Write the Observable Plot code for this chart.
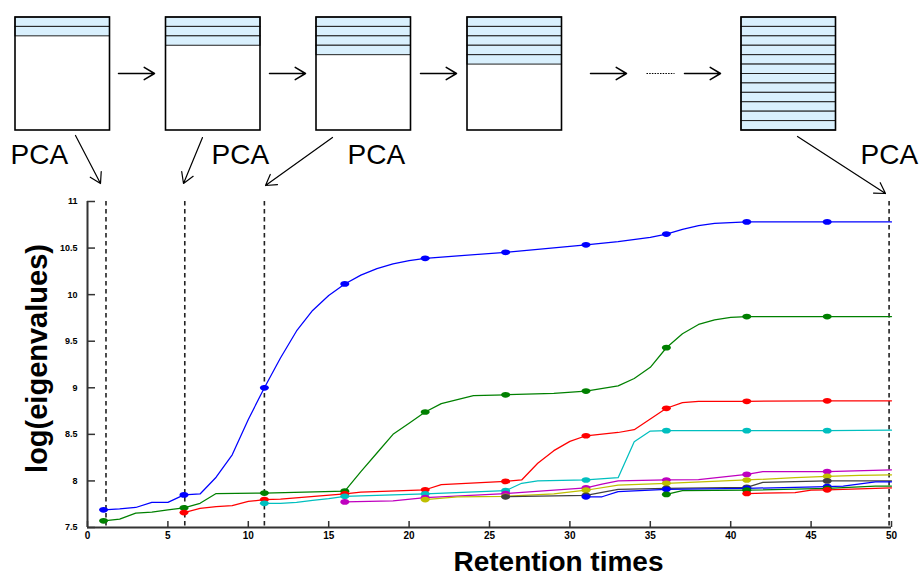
<!DOCTYPE html>
<html>
<head>
<meta charset="utf-8">
<script src="https://cdn.jsdelivr.net/npm/d3@7"></script>
<script src="https://cdn.jsdelivr.net/npm/@observablehq/plot@0.6"></script>
<style>
  html, body { margin: 0; padding: 0; background: #fff; }
  #wrap { position: relative; width: 920px; height: 576px; }
  #wrap > .layer { position: absolute; left: 0; top: 0; }
</style>
</head>
<body>
<div id="wrap"><div id="chart" class="layer"></div><div id="diagram" class="layer"></div></div>
<script>
// ---------- data ----------
const xTicks = [0, 5, 10, 15, 20, 25, 30, 35, 40, 45, 50];
const yTicks = [7.5, 8, 8.5, 9, 9.5, 10, 10.5, 11];
const yTickLabels = ["7.5", "8", "8.5", "9", "9.5", "10", "10.5", "11"];
const snapshotTimes = [1.15, 6.05, 11, 49.85];
const stageBands = [2, 3, 4, 5, 12];
const pcaLabel = "PCA";
const xTitle = "Retention times";
const yTitle = "log(eigenvalues)";
const seriesNames = ["PC1", "PC2", "PC3", "PC4", "PC5", "PC6", "PC7", "PC8", "PC9", "PC10"];
const seriesColors = ["#0000ff", "#008000", "#ff0000", "#00bfbf", "#bf00bf", "#bfbf00", "#404040", "#0000ff", "#008000", "#ff0000"];

const pc1 = [[1,7.69],[2,7.70],[3,7.715],[4,7.77],[5,7.77],[6,7.85],[7,7.86],[8,8.04],[9,8.28],[10,8.66],[11,9.0],[12,9.32],[13,9.61],[14,9.83],[15,9.99],[16,10.115],[17,10.21],[18,10.28],[19,10.33],[20,10.365],[21,10.39],[26,10.455],[31,10.535],[33,10.57],[35,10.615],[36,10.65],[37,10.70],[38,10.74],[39,10.765],[41,10.78],[46,10.78],[50,10.78]];
const pc2 = [[1,7.572],[2,7.59],[3,7.655],[4,7.665],[5,7.69],[6,7.71],[7,7.76],[8,7.865],[11,7.87],[16,7.89],[17,8.1],[18,8.3],[19,8.5],[20,8.62],[21,8.74],[22,8.83],[24,8.915],[26,8.925],[29,8.94],[31,8.965],[33,9.02],[34,9.1],[35,9.22],[36,9.43],[37,9.58],[38,9.68],[39,9.73],[40,9.755],[41,9.765],[46,9.765],[50,9.765]];
const pc3 = [[6,7.66],[7,7.705],[8,7.725],[9,7.735],[10,7.78],[11,7.80],[12,7.805],[16,7.86],[17,7.88],[21,7.905],[22,7.96],[26,7.995],[27,8.01],[28,8.19],[29,8.325],[30,8.425],[31,8.485],[33,8.52],[34,8.55],[35,8.665],[36,8.78],[37,8.84],[38,8.855],[41,8.855],[46,8.86],[50,8.86]];
const pc4 = [[11,7.76],[12,7.76],[13,7.77],[14,7.79],[15,7.81],[16,7.835],[21,7.86],[26,7.895],[27,7.975],[28,8.0],[31,8.01],[33,8.035],[34,8.42],[35,8.535],[36,8.54],[41,8.54],[46,8.54],[50,8.545]];
const pc5 = [[16,7.775],[19,7.785],[21,7.82],[26,7.865],[31,7.925],[32,7.965],[33,8.0],[36,8.01],[38,8.015],[41,8.07],[42,8.10],[46,8.10],[50,8.12]];
const pc6 = [[21,7.80],[23,7.83],[26,7.835],[29,7.86],[31,7.90],[33,7.955],[36,7.975],[41,8.01],[44,8.035],[46,8.05],[48,8.06],[50,8.065]];
const pc7 = [[26,7.83],[31,7.845],[33,7.91],[36,7.92],[41,7.93],[42,7.985],[46,8.0],[50,8.0]];
const pc8 = [[31,7.83],[32,7.83],[33,7.885],[36,7.91],[41,7.92],[46,7.94],[47,7.945],[49,7.99],[50,7.99]];
const pc9 = [[36,7.855],[37,7.895],[41,7.90],[46,7.92],[49,7.945],[50,7.945]];
const pc10 = [[41,7.865],[44,7.875],[45,7.90],[46,7.905],[50,7.925]];
const markerTimes = [1, 6, 11, 16, 21, 26, 31, 36, 41, 46];

// ---------- build tables ----------
const allSeries = [pc1, pc2, pc3, pc4, pc5, pc6, pc7, pc8, pc9, pc10];
const rows = allSeries.flatMap((s, i) => s.map(([x, y]) => ({pc: seriesNames[i], x, y})));
const markers = rows.filter(d => markerTimes.includes(d.x));

const FONT = "'Liberation Sans', Arial, Helvetica, sans-serif";

const ellipse = {
  draw(ctx, size) {
    const r = Math.sqrt(size / Math.PI), rx = r * 1.3, ry = r * 0.82, k = 0.5523;
    ctx.moveTo(rx, 0);
    ctx.bezierCurveTo(rx, ry * k, rx * k, ry, 0, ry);
    ctx.bezierCurveTo(-rx * k, ry, -rx, ry * k, -rx, 0);
    ctx.bezierCurveTo(-rx, -ry * k, -rx * k, -ry, 0, -ry);
    ctx.bezierCurveTo(rx * k, -ry, rx, -ry * k, rx, 0);
    ctx.closePath();
  }
};

// ---------- main chart ----------
const chart = Plot.plot({
  width: 920,
  height: 576,
  marginTop: 201,
  marginBottom: 49,
  marginLeft: 87,
  marginRight: 29,
  style: {fontFamily: FONT, background: "transparent", overflow: "visible"},
  x: {domain: [0, 50], axis: null},
  y: {domain: [7.5, 11], axis: null},
  color: {domain: seriesNames, range: seriesColors},
  marks: [
    Plot.ruleX(snapshotTimes, {stroke: "#222", strokeWidth: 1.6, strokeDasharray: "4.5,3.5"}),
    Plot.line(rows, {x: "x", y: "y", z: "pc", stroke: "pc", strokeWidth: 1.25, curve: "linear"}),
    Plot.dot(markers, {x: "x", y: "y", fill: "pc", symbol: ellipse, r: 3.5, stroke: "none"}),
    Plot.ruleX([0], {stroke: "#333", strokeWidth: 2}),
    Plot.ruleY([7.5], {stroke: "#333", strokeWidth: 2}),
    Plot.axisY({ticks: yTicks, tickSize: -8, tickFormat: () => "", stroke: "#333", strokeWidth: 1.5, label: null}),
    Plot.axisX({ticks: xTicks, tickSize: -6, tickFormat: () => "", stroke: "#333", strokeWidth: 1.5, label: null}),
    Plot.axisY({ticks: yTicks, tickSize: 0, tickPadding: 10, tickFormat: d => yTickLabels[yTicks.indexOf(d)],
      fontSize: 9, fontWeight: "bold", fill: "#000", label: null}),
    Plot.axisX({ticks: xTicks, tickSize: 0, tickPadding: 4, tickFormat: d => String(d),
      fontSize: 10, fontWeight: "bold", fill: "#000", label: null}),
    Plot.text([xTitle], {text: d => d, frameAnchor: "bottom", textAnchor: "middle", lineAnchor: "bottom",
      dx: 69, dy: 43, fontSize: 28, fontWeight: "bold", fill: "#000"}),
    Plot.text([yTitle], {text: d => d, frameAnchor: "left", rotate: -90, textAnchor: "middle", lineAnchor: "middle",
      dx: -50, dy: -6, fontSize: 29, fontWeight: "bold", fill: "#000"})
  ]
});
document.getElementById("chart").appendChild(chart);

// ---------- top schematic (pixel-identity scales) ----------
const boxLeft = [15, 165.5, 316, 467, 741];
const boxW = 94.5, boxTop = 17, boxH = 113, bandH = boxH / 12;
const stages = stageBands.map((n, i) => ({i, n, x1: boxLeft[i], x2: boxLeft[i] + boxW, y1: boxTop, y2: boxTop + boxH}));
const bands = stages.flatMap(s => d3.range(s.n).map(j => ({x1: s.x1, x2: s.x2, y1: boxTop + j * bandH, y2: boxTop + (j + 1) * bandH})));
const flowArrows = [[118, 154], [269, 305], [420, 456], [590, 626], [684, 720]].map(([a, b]) => ({x1: a, x2: b, y1: 73, y2: 73}));
const ellipsisDots = [{x1: 646, x2: 674, y1: 73, y2: 73}];
const pcaTexts = [10, 211, 347, 860].map(x => ({x, y: 163}));
const pcaArrows = [[75, 135, 100, 183], [202, 137, 183, 183], [332, 137, 265, 185], [797, 136, 885, 193]]
  .map(([x1, y1, x2, y2]) => ({x1, y1, x2, y2}));

const diagram = Plot.plot({
  width: 920,
  height: 198,
  margin: 0,
  style: {fontFamily: FONT, background: "transparent", overflow: "visible"},
  x: {type: "identity", axis: null},
  y: {type: "identity", axis: null},
  marks: [
    Plot.rect(bands, {x1: "x1", x2: "x2", y1: "y1", y2: "y2", fill: "#d9f0fd", stroke: "#222", strokeWidth: 1}),
    Plot.rect(stages, {x1: "x1", x2: "x2", y1: "y1", y2: "y2", fill: "none", stroke: "#000", strokeWidth: 1.6}),
    Plot.arrow(flowArrows, {x1: "x1", y1: "y1", x2: "x2", y2: "y2", stroke: "#000", strokeWidth: 1.5, headLength: 12, headAngle: 62}),
    Plot.link(ellipsisDots, {x1: "x1", y1: "y1", x2: "x2", y2: "y2", stroke: "#000", strokeWidth: 1.2, strokeDasharray: "1.5,1.2"}),
    Plot.arrow(pcaArrows, {x1: "x1", y1: "y1", x2: "x2", y2: "y2", stroke: "#000", strokeWidth: 1.2, headLength: 15, headAngle: 62}),
    Plot.text(pcaTexts, {x: "x", y: "y", text: () => pcaLabel, textAnchor: "start", lineAnchor: "bottom",
      fontSize: 28, fill: "#000"})
  ]
});
document.getElementById("diagram").appendChild(diagram);
</script>
</body>
</html>
